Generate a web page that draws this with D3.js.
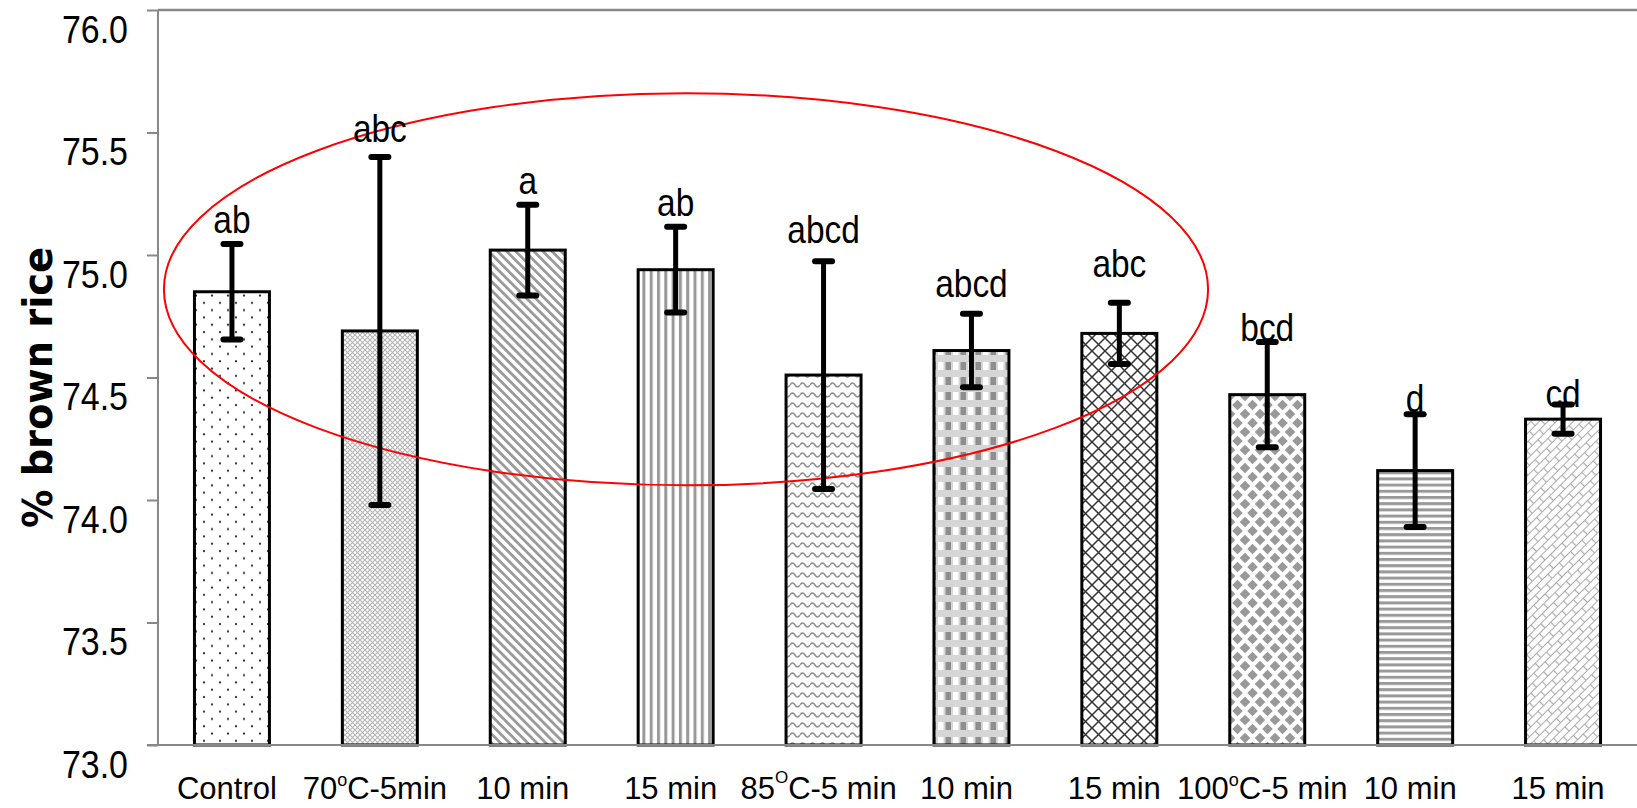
<!DOCTYPE html>
<html><head><meta charset="utf-8">
<script src="https://cdn.jsdelivr.net/npm/d3@7"></script>
<style>html,body{margin:0;padding:0;background:#fff;} svg{display:block}</style>
</head><body>
<svg id="chart" width="1637" height="808"></svg>
<script>
// ---- data ----
const categories = ["Control","70-5","70-10","70-15","85-5","85-10","85-15","100-5","100-10","100-15"];
const tickLabels = ["Control","70|o|C-5min","10 min","15 min","85|O|C-5 min","10 min","15 min","100|o|C-5 min","10 min","15 min"];
const means  = [74.85, 74.69, 75.02, 74.94, 74.51, 74.61, 74.68, 74.43, 74.12, 74.33];
const errors = [0.195, 0.71, 0.185, 0.175, 0.465, 0.15, 0.125, 0.215, 0.23, 0.06];
const letters = ["ab","abc","a","ab","abcd","abcd","abc","bcd","d","cd"];
const letterY = [75.09, 75.46, 75.25, 75.16, 75.05, 74.83, 74.91, 74.65, 74.36, 74.38];
const yTicks = [73.0, 73.5, 74.0, 74.5, 75.0, 75.5, 76.0];
const yDomain = [73, 76];
const yTitle = "% brown rice";
// annotation ellipse, in band-index units (x) and data units (y)
const ellipseX = [0.04, 7.10];
const ellipseY = [74.06, 75.66];

// ---- layout ----
const W = 1637, H = 808;
const L = 158, R = 1637, T = 10, B = 745;
const svg = d3.select("#chart");
const defs = svg.append("defs");

const x = d3.scaleBand().domain(categories).range([L, R]).paddingInner(0.493).paddingOuter(0.2465);
const y = d3.scaleLinear().domain(yDomain).range([B, T]);
const step = x.step();

// ---- patterns ----
function pat(id, w, h, draw, transform) {
  const p = defs.append("pattern").attr("id", id).attr("patternUnits", "userSpaceOnUse")
    .attr("width", w).attr("height", h);
  if (transform) p.attr("patternTransform", transform);
  p.append("rect").attr("width", w).attr("height", h).attr("fill", "#fff");
  draw(p);
}
pat("p0", 16, 14.6, p => {
  p.append("circle").attr("cx", 4).attr("cy", 3.6).attr("r", 1.1).attr("fill", "#222");
  p.append("circle").attr("cx", 12).attr("cy", 10.9).attr("r", 1.1).attr("fill", "#222");
});
pat("p1", 5, 5, p => {
  p.append("path").attr("d", "M-1,-1L6,6M6,-1L-1,6").attr("stroke", "#b3b3b3").attr("stroke-width", 1.1).attr("fill", "none");
});
pat("p2", 6.4, 10, p => {
  p.append("rect").attr("x", 0).attr("width", 2.8).attr("height", 10).attr("fill", "#9a9a9a");
}, "rotate(-45)");
pat("p3", 7.3, 10, p => {
  p.append("rect").attr("x", 0).attr("width", 3).attr("height", 10).attr("fill", "#999");
});
pat("p4", 10, 10, p => {
  p.append("path").attr("d", "M0,5 Q2.5,1 5,5 T10,5").attr("stroke", "#8f8f8f").attr("stroke-width", 1.5).attr("fill", "none");
});
pat("p5", 15, 15, p => {
  p.append("rect").attr("width", 15).attr("height", 15).attr("fill", "#d6d6d6");
  p.append("rect").attr("x", 0.5).attr("y", 2).attr("width", 5.5).attr("height", 8).attr("fill", "#8e8e8e");
  p.append("rect").attr("x", 8).attr("y", 2).attr("width", 5.5).attr("height", 8).attr("fill", "#fff");
});
pat("p6", 13, 13, p => {
  p.append("path").attr("d", "M-1,-1L14,14M14,-1L-1,14").attr("stroke", "#333").attr("stroke-width", 1.5).attr("fill", "none");
});
pat("p7", 15, 18, p => {
  const dia = (cx, cy) => `M${cx},${cy-5.3}L${cx+5.3},${cy}L${cx},${cy+5.3}L${cx-5.3},${cy}Z`;
  p.append("path").attr("d", [dia(0,0), dia(15,0), dia(0,18), dia(15,18), dia(7.5,9)].join("")).attr("fill", "#999");
});
pat("p8", 10, 6.2, p => {
  p.append("rect").attr("y", 0).attr("width", 10).attr("height", 3).attr("fill", "#999");
});
pat("p9", 16, 12, p => {
  p.append("path").attr("d", "M0,0.5H16M0,6.5H16M0.5,0.5V6.5M8.5,6.5V12.5").attr("stroke", "#aaa").attr("stroke-width", 1.2).attr("fill", "none");
}, "rotate(-45)");

// ---- axes lines ----
svg.append("line").attr("x1", L).attr("x2", R).attr("y1", T).attr("y2", T).attr("stroke", "#888").attr("stroke-width", 2.5);

// ---- bars ----
svg.append("g").selectAll("rect").data(categories).join("rect")
  .attr("x", d => x(d)).attr("width", x.bandwidth())
  .attr("y", (d, i) => y(means[i])).attr("height", (d, i) => B - y(means[i]))
  .attr("fill", (d, i) => `url(#p${i})`).attr("stroke", "#000").attr("stroke-width", 3);

// ---- ellipse ----
const ex0 = L + ellipseX[0] * step, ex1 = L + ellipseX[1] * step;
svg.append("ellipse").attr("cx", (ex0 + ex1) / 2).attr("cy", (y(ellipseY[0]) + y(ellipseY[1])) / 2)
  .attr("rx", (ex1 - ex0) / 2).attr("ry", (y(ellipseY[0]) - y(ellipseY[1])) / 2)
  .attr("fill", "none").attr("stroke", "#f00").attr("stroke-width", 2);

// ---- error bars ----
const eg = svg.append("g").attr("stroke", "#000");
categories.forEach((c, i) => {
  const cx = x(c) + x.bandwidth() / 2;
  const y1 = y(means[i] + errors[i]), y2 = y(means[i] - errors[i]);
  eg.append("line").attr("x1", cx).attr("x2", cx).attr("y1", y1).attr("y2", y2).attr("stroke-width", 5);
  [y1, y2].forEach(yy => eg.append("line").attr("x1", cx - 8.5).attr("x2", cx + 8.5).attr("y1", yy).attr("y2", yy)
    .attr("stroke-width", 6).attr("stroke-linecap", "round"));
});

// ---- letters ----
svg.append("g").selectAll("text").data(categories).join("text")
  .attr("transform", (d, i) => `translate(${x(d) + x.bandwidth() / 2},${y(letterY[i])}) scale(0.88,1)`)
  .attr("text-anchor", "middle").attr("font-family", "Liberation Sans, Arial, sans-serif")
  .attr("font-size", 38).attr("fill", "#000").text((d, i) => letters[i]);

// ---- y axis ----
const yAxis = svg.append("g").attr("transform", `translate(${L},0)`)
  .call(d3.axisLeft(y).tickValues(yTicks).tickSize(11).tickFormat(d3.format(".1f")));
yAxis.select(".domain").attr("stroke", "#888").attr("stroke-width", 2).attr("d", `M0,${T}V${B}`);
yAxis.selectAll(".tick line").attr("stroke", "#888").attr("stroke-width", 2);
yAxis.selectAll(".tick text").attr("x", null).attr("dy", null)
  .attr("transform", "translate(-30,32) scale(0.87,1)").attr("text-anchor", "end")
  .attr("font-family", "Liberation Sans, Arial, sans-serif").attr("font-size", 39).attr("fill", "#000");

// ---- x axis ----
svg.append("line").attr("x1", L - 11).attr("x2", R).attr("y1", B).attr("y2", B).attr("stroke", "#888").attr("stroke-width", 2);
const xl = svg.append("g").attr("font-family", "Liberation Sans, Arial, sans-serif").attr("font-size", 31).attr("fill", "#000");
categories.forEach((c, i) => {
  const parts = tickLabels[i].split("|");
  const t = xl.append("text").attr("x", x(c) + x.bandwidth() / 2 - 5).attr("y", 799).attr("text-anchor", "middle");
  if (parts.length === 1) { t.text(parts[0]); return; }
  const big = parts[1] === "O";
  const shift = big ? 16 : 13.5;
  t.append("tspan").text(parts[0]);
  t.append("tspan").attr("dy", -shift).attr("font-size", big ? 17 : 18).text(parts[1]);
  t.append("tspan").attr("dy", shift).text(parts[2]);
});

// ---- y title ----
svg.append("text").attr("transform", "translate(52,387.5) rotate(-90)")
  .attr("text-anchor", "middle").attr("font-family", "DejaVu Sans, sans-serif").attr("font-weight", "bold")
  .attr("font-size", 41).attr("textLength", 281).attr("lengthAdjust", "spacingAndGlyphs")
  .attr("fill", "#000").text(yTitle);
</script>
</body></html>
